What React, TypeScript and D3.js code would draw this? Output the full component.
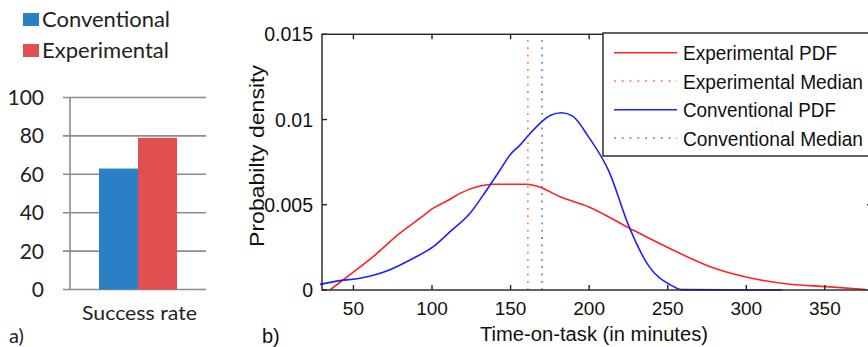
import { useEffect, useRef } from 'react';
import * as d3 from 'd3';

// panel a) success rate bars
const barGroups = ['Conventional', 'Experimental'];
const successRate = [63, 79];
const barTicks = [0, 20, 40, 60, 80, 100];

// panel b) estimated probability density curves (time in minutes, density)
const expTime = [35, 48.9, 62.6, 79.6, 92.4, 100.8, 111.5, 117.8, 130.5, 139, 160.3, 168.7, 181.5, 199.5, 225, 251, 277, 302, 328, 351, 376];
const expDensity = [0, 0.00098, 0.00196, 0.00333, 0.00421, 0.0048, 0.00532, 0.00567, 0.0061, 0.0062, 0.0062, 0.00603, 0.00547, 0.00489, 0.00366, 0.00245, 0.00137, 0.00072, 0.00034, 0.0002, 0.00003];
const convTime = [28.7, 41.5, 54.2, 71.2, 88.1, 100.8, 111.5, 124.2, 134.8, 143.3, 149.6, 156, 160.3, 168.7, 175.5, 182.5, 189.5, 199.5, 212.6, 225.4, 238.2, 251, 259.5, 323];
const convDensity = [0.00033, 0.00055, 0.00069, 0.00111, 0.00186, 0.00254, 0.00342, 0.0045, 0.00587, 0.00704, 0.00792, 0.0085, 0.00896, 0.00978, 0.01025, 0.0104, 0.0102, 0.009, 0.00696, 0.00372, 0.00137, 0.00034, 0.00002, 0];
const expMedian = 161;
const convMedian = 170;
const xTicks = [50, 100, 150, 200, 250, 300, 350];
const yTicks = [0, 0.005, 0.01, 0.015];
const yTickLabels = ['0', '0.005', '0.01', '0.015'];
const legendLabels = ['Experimental PDF', 'Experimental Median', 'Conventional PDF', 'Conventional Median'];
const legendWidths = [154, 180, 153, 180];

const BLUE_BAR = '#2b7fc4';
const RED_BAR = '#e05050';
const RED = '#ff2020';
const BLUE = '#2020ff';

export default function App() {
  const svgRef = useRef<SVGSVGElement | null>(null);

  useEffect(() => {
    const svg = d3.select(svgRef.current);
    svg.selectAll('*').remove();

    // ---------- panel a ----------
    const officeFont = 'Lato, "Open Sans", sans-serif';
    const a = svg.append('g');

    // legend
    barGroups.forEach((name, i) => {
      const y = 13 + i * 31;
      a.append('rect').attr('x', 23).attr('y', y).attr('width', 16).attr('height', 13)
        .attr('fill', i === 0 ? BLUE_BAR : RED_BAR);
      a.append('text').attr('x', 42).attr('y', y + 13.5).text(name)
        .attr('textLength', i === 0 ? 128 : 127).attr('lengthAdjust', 'spacingAndGlyphs')
        .attr('font-family', officeFont).attr('font-size', 20.5).attr('fill', '#222');
    });

    const ya = d3.scaleLinear().domain([0, 100]).range([289.5, 97.5]);
    barTicks.forEach(t => {
      a.append('line').attr('x1', 63).attr('x2', 206).attr('y1', ya(t)).attr('y2', ya(t))
        .attr('stroke', '#8c8c8c').attr('stroke-width', 1.6);
      a.append('text').attr('x', 44).attr('y', ya(t) + 7.5).attr('text-anchor', 'end')
        .text(t).attr('font-family', officeFont).attr('font-size', 21).attr('fill', '#222');
    });
    a.append('line').attr('x1', 70).attr('x2', 70).attr('y1', ya(100)).attr('y2', ya(0))
      .attr('stroke', '#8c8c8c').attr('stroke-width', 1.6);

    const xa = d3.scaleBand().domain(barGroups).range([99, 177]);
    a.selectAll('.bar').data(successRate).enter().append('rect')
      .attr('x', (d, i) => xa(barGroups[i]) as number)
      .attr('y', d => ya(d))
      .attr('width', xa.bandwidth())
      .attr('height', d => ya(0) - ya(d))
      .attr('fill', (d, i) => (i === 0 ? BLUE_BAR : RED_BAR));

    a.append('text').attr('x', 82).attr('y', 320)
      .attr('textLength', 115).attr('lengthAdjust', 'spacingAndGlyphs')
      .text('Success rate').attr('font-family', officeFont).attr('font-size', 20).attr('fill', '#222');
    a.append('text').attr('x', 9).attr('y', 343).text('a)')
      .attr('font-family', officeFont).attr('font-size', 20).attr('fill', '#222');

    // ---------- panel b ----------
    const mFont = '"Liberation Sans", Arial, sans-serif';
    const b = svg.append('g');
    const x = d3.scaleLinear().domain([30, 380]).range([322, 872]);
    const y = d3.scaleLinear().domain([0, 0.015]).range([290, 34.3]);
    const [x0, x1] = x.range();
    const [y0, y1] = y.range();

    // curves
    const line = d3.line<[number, number]>().x(d => x(d[0])).y(d => y(d[1])).curve(d3.curveMonotoneX);
    const expPts = expTime.map((t, i) => [t, expDensity[i]] as [number, number]);
    const convPts = convTime.map((t, i) => [t, convDensity[i]] as [number, number]);

    // medians
    [[expMedian, RED], [convMedian, BLUE]].forEach(([m, c]) => {
      b.append('line').attr('x1', x(m as number)).attr('x2', x(m as number)).attr('y1', y0).attr('y2', y1)
        .attr('stroke', c as string).attr('stroke-opacity', 0.6).attr('stroke-width', 1.8)
        .attr('stroke-dasharray', '1.8,5.5');
    });

    b.append('path').datum(expPts).attr('d', line).attr('fill', 'none')
      .attr('stroke', RED).attr('stroke-width', 1.6);
    b.append('path').datum(convPts).attr('d', line).attr('fill', 'none')
      .attr('stroke', BLUE).attr('stroke-width', 1.6);

    // frame
    b.append('rect').attr('x', x0).attr('y', y1).attr('width', x1 - x0).attr('height', y0 - y1)
      .attr('fill', 'none').attr('stroke', '#222').attr('stroke-width', 1.4);

    // ticks (inside, on all four sides)
    xTicks.forEach(t => {
      b.append('line').attr('x1', x(t)).attr('x2', x(t)).attr('y1', y0).attr('y2', y0 - 5)
        .attr('stroke', '#222').attr('stroke-width', 1.4);
      b.append('line').attr('x1', x(t)).attr('x2', x(t)).attr('y1', y1).attr('y2', y1 + 5)
        .attr('stroke', '#222').attr('stroke-width', 1.4);
      b.append('text').attr('x', x(t)).attr('y', 315).attr('text-anchor', 'middle').text(t)
        .attr('font-family', mFont).attr('font-size', 19).attr('fill', '#111');
    });
    yTicks.forEach((t, i) => {
      b.append('line').attr('x1', x0).attr('x2', x0 + 5).attr('y1', y(t)).attr('y2', y(t))
        .attr('stroke', '#222').attr('stroke-width', 1.4);
      b.append('line').attr('x1', x1).attr('x2', x1 - 5).attr('y1', y(t)).attr('y2', y(t))
        .attr('stroke', '#222').attr('stroke-width', 1.4);
      b.append('text').attr('x', 313).attr('y', y(t) + 7).attr('text-anchor', 'end').text(yTickLabels[i])
        .attr('font-family', mFont).attr('font-size', 19.5).attr('fill', '#111');
    });

    b.append('text').attr('transform', 'translate(264,156) rotate(-90)').attr('text-anchor', 'middle')
      .attr('textLength', 182).attr('lengthAdjust', 'spacingAndGlyphs')
      .text('Probabilty density').attr('font-family', mFont).attr('font-size', 20).attr('fill', '#111');
    b.append('text').attr('x', 594).attr('y', 341).attr('text-anchor', 'middle')
      .attr('textLength', 228).attr('lengthAdjust', 'spacingAndGlyphs')
      .text('Time-on-task (in minutes)').attr('font-family', mFont).attr('font-size', 20).attr('fill', '#111');
    b.append('text').attr('x', 262).attr('y', 343).text('b)')
      .attr('font-family', mFont).attr('font-size', 20).attr('fill', '#111');

    // legend
    const lg = b.append('g');
    lg.append('rect').attr('x', 603).attr('y', 33).attr('width', 280).attr('height', 123)
      .attr('fill', '#fff').attr('stroke', '#222').attr('stroke-width', 1.4);
    legendLabels.forEach((label, i) => {
      const ly = 52.7 + i * 28.5;
      const c = i < 2 ? RED : BLUE;
      const dotted = i % 2 === 1;
      lg.append('line').attr('x1', 614).attr('x2', 677).attr('y1', ly).attr('y2', ly)
        .attr('stroke', c).attr('stroke-width', dotted ? 1.8 : 1.6)
        .attr('stroke-opacity', dotted ? 0.6 : 1)
        .attr('stroke-dasharray', dotted ? '1.8,6' : null);
      lg.append('text').attr('x', 683).attr('y', ly + 7.3).text(label)
        .attr('textLength', legendWidths[i]).attr('lengthAdjust', 'spacingAndGlyphs')
        .attr('font-family', mFont).attr('font-size', 19.5).attr('fill', '#111');
    });
  }, []);

  return (
    <svg ref={svgRef} width={868} height={347}
      style={{ position: 'absolute', left: 0, top: 0, background: '#fff' }} />
  );
}
